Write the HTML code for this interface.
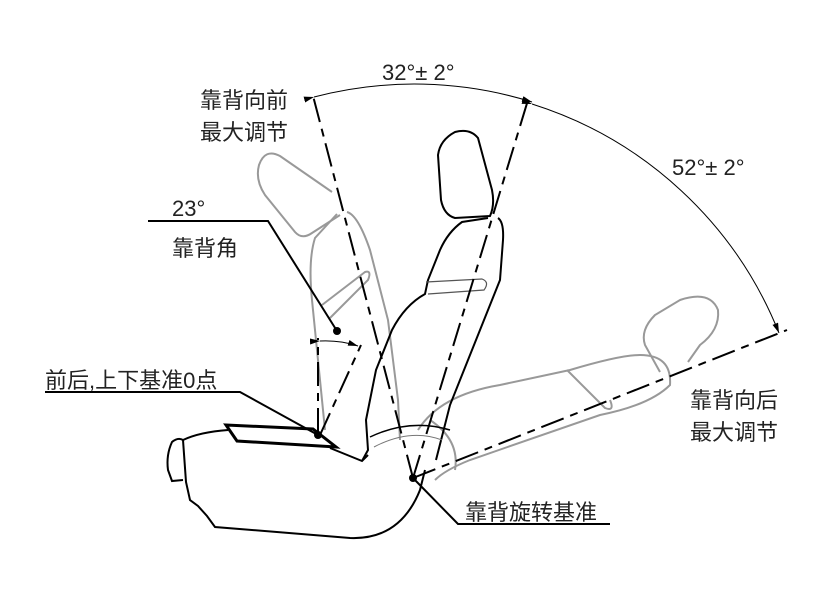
<!DOCTYPE html>
<html><head><meta charset="utf-8"><style>
body{margin:0;background:#fff;}
svg{display:block}
text{font-family:"Liberation Sans","Noto Sans CJK SC",sans-serif;font-size:22px;fill:#222}
</style></head><body>
<svg width="820" height="594" viewBox="0 0 820 594" xmlns="http://www.w3.org/2000/svg">
<defs>
<marker id="ah" markerWidth="10" markerHeight="6" refX="10" refY="3" orient="auto" markerUnits="userSpaceOnUse"><path d="M0,0 L10,3 L0,6 z" fill="#000"/></marker>
</defs>
<g fill="none" stroke="#999" stroke-width="2">
<path d="M332,192 L280,156 Q265,148 259,165 Q255,180 265,195 L295,232 Q302,240 312,233 L340,215"/>
<path d="M337,214 L315,238 Q308,260 312,300 L325,430"/>
<path d="M347,212 Q358,215 370,250 L388,320 L398,400 L400,440"/>
<path d="M322,305 L365,272 Q372,270 368,280 L330,318"/>
<path d="M660,372 L645,345 Q640,330 655,315 L680,300 Q710,290 718,310 Q720,330 700,345 L688,362"/>
<path d="M418,430 Q440,395 500,385 L570,370 Q620,355 640,355 Q672,355 670,385 Q650,405 600,415 L470,460 Q445,470 435,480"/>
<path d="M567,370 L605,408 Q615,412 610,400"/>
<path d="M430,420 Q460,440 455,470"/>
</g>
<g fill="none" stroke="#000" stroke-width="2">
<path d="M183,440 Q178,437 172,442 Q166,455 168,470 L172,481 L183,480"/>
<path d="M183,440 Q200,432 228,430"/>
<path d="M330,448 L362,461 L368,455"/>
<path d="M183,440 L186,482 L190,500 L198,506 L207,516 L215,527 L350,538 Q400,540 420,490 L425,470"/>
<path d="M478,138 Q470,128 455,132 Q440,140 438,155 L441,200 Q444,215 455,218 L490,216 Q495,205 492,190 Z"/>
<path d="M488,218 L462,222 Q448,232 440,250 L428,280 L425,294 Q405,305 392,330 L376,370 L366,420 L368,450 L362,461"/>
<path d="M498,218 Q504,222 503,240 L500,280 L480,330 L450,405 L436,460"/>
<path d="M426,282 L482,279 Q490,282 484,290 L428,294" stroke="#555" stroke-width="1.2"/>
<path d="M370,437 Q410,418 450,430" stroke="#000" stroke-width="1.5"/>
<path d="M374,447 Q410,428 442,440" stroke="#777" stroke-width="1"/>
<path d="M226,425 L313,429 L336,447 L237,441 Z" stroke-width="3"/>
</g>
<g fill="none" stroke="#000" stroke-width="2" stroke-dasharray="24,7,8,7">
<path d="M413,478 L312,92"/>
<path d="M413,478 L528,100"/>
<path d="M413,478 L787,330"/>
<path d="M318,432 L318,338"/>
<path d="M320,435 L361,345"/>
</g>
<path d="M314,97 A395,395 0 0 1 532,102" fill="none" stroke="#000" stroke-width="1" marker-end="url(#ah)" marker-start="url(#ah)"/>
<path d="M532,104 A393,393 0 0 1 779,333" fill="none" stroke="#000" stroke-width="1" marker-end="url(#ah)" marker-start="url(#ah)"/>
<path d="M320,341 Q340,340 358,346" fill="none" stroke="#000" stroke-width="1" marker-end="url(#ah)" marker-start="url(#ah)"/>
<g fill="none" stroke="#000" stroke-width="2">
<path d="M148,221 L268,221 L337,331"/>
<path d="M45,392 L240,392 L318,435"/>
<path d="M413,478 L458,524 L610,524"/>
</g>
<circle cx="337" cy="331" r="4"/>
<circle cx="318" cy="435" r="4"/>
<circle cx="413" cy="478" r="4"/>
<text x="382" y="80">32°± 2°</text>
<text x="672" y="175">52°± 2°</text>
<text x="200" y="108">靠背向前</text>
<text x="200" y="140">最大调节</text>
<text x="172" y="216">23°</text>
<text x="172" y="256">靠背角</text>
<text x="45" y="388">前后,上下基准0点</text>
<text x="690" y="408">靠背向后</text>
<text x="690" y="440">最大调节</text>
<text x="465" y="520">靠背旋转基准</text>
</svg>
</body></html>
